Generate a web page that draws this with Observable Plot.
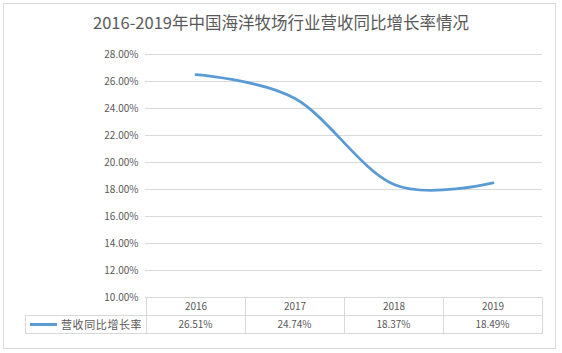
<!DOCTYPE html>
<html>
<head>
<meta charset="utf-8">
<script src="https://cdn.jsdelivr.net/npm/d3@7"></script>
<script src="https://cdn.jsdelivr.net/npm/@observablehq/plot@0.6"></script>
<style>
  html, body { margin: 0; padding: 0; background: #fff; }
  #wrap { position: relative; width: 562px; height: 353px; font-family: "Noto Sans CJK SC", "Noto Sans", sans-serif; color: #595959; overflow: hidden; }
  #frame { position: absolute; left: 3px; top: 3px; width: 551px; height: 344px; border: 1px solid #d9d9d9; box-sizing: content-box; }
  #title { position: relative; height: 40px; line-height: 40px; padding-top: 2px; box-sizing: border-box; text-align: center; font-size: 16.5px; }
  .hl, .vl { position: absolute; background: #d9d9d9; }
  .cellText { position: absolute; font-size: 10px; text-align: center; line-height: 18px; }
</style>
</head>
<body>
<div id="wrap">
  <div id="frame"></div>
  <div id="title"></div>
  <div id="chart"></div>
</div>
<script>
const title = "2016-2019年中国海洋牧场行业营收同比增长率情况";
const seriesName = "营收同比增长率";
const years = ["2016", "2017", "2018", "2019"];
const values = [26.51, 24.74, 18.37, 18.49];
const yTicks = [10, 12, 14, 16, 18, 20, 22, 24, 26, 28];
const lineColor = "#5B9BD5";

document.getElementById("title").textContent = title;

const data = years.map((year, i) => ({year, value: values[i]}));

const plot = Plot.plot({
  width: 562,
  height: 313,
  marginTop: 14,
  marginBottom: 56,
  marginLeft: 145,
  marginRight: 20,
  style: {fontSize: "10px", fontFamily: "'Noto Sans CJK SC', 'Noto Sans', sans-serif", color: "#595959", background: "transparent", overflow: "visible"},
  x: {type: "band", domain: years, padding: 0, tickSize: 0, tickPadding: 5, label: null},
  y: {domain: [10, 28], ticks: 9, tickFormat: d => d.toFixed(2) + "%", tickSize: 0, tickPadding: 7, label: null},
  marks: [
    Plot.ruleY(yTicks, {stroke: "#d9d9d9", strokeWidth: 1}),
    Plot.line(data, {x: "year", y: "value", stroke: lineColor, strokeWidth: 2.75, curve: "cardinal", strokeLinecap: "round"})
  ]
});
const chart = document.getElementById("chart");
chart.appendChild(plot);

// Data table below the plot, aligned with the x band scale
const xs = plot.scale("x");
const ys = plot.scale("y");
const top0 = 40; // svg offset
const yBase = top0 + ys.apply(10);
const rowH = 18;
const leftX = 25;
const bw = xs.bandwidth;
const x0 = xs.apply(years[0]);
const xEnd = xs.apply(years[years.length - 1]) + bw;
const wrap = document.getElementById("wrap");
function add(cls, style, text) {
  const d = document.createElement("div");
  d.className = cls;
  Object.assign(d.style, style);
  if (text != null) d.textContent = text;
  wrap.appendChild(d);
  return d;
}
// horizontal lines
add("hl", {left: leftX + "px", top: (yBase + rowH) + "px", width: (xEnd - leftX + 1) + "px", height: "1px"});
add("hl", {left: leftX + "px", top: (yBase + 2 * rowH) + "px", width: (xEnd - leftX + 1) + "px", height: "1px"});
// vertical lines
add("vl", {left: leftX + "px", top: (yBase + rowH) + "px", width: "1px", height: (rowH + 1) + "px"});
years.forEach(y => {
  add("vl", {left: xs.apply(y) + "px", top: yBase + "px", width: "1px", height: (2 * rowH + 1) + "px"});
});
add("vl", {left: xEnd + "px", top: yBase + "px", width: "1px", height: (2 * rowH + 1) + "px"});
// values row
years.forEach((y, i) => {
  add("cellText", {left: xs.apply(y) + "px", top: (yBase + rowH) + "px", width: bw + "px", height: rowH + "px"}, values[i].toFixed(2) + "%");
});
// legend cell
add("hl", {left: (leftX + 5) + "px", top: (yBase + rowH + 8) + "px", width: "27px", height: "3px", background: lineColor});
add("cellText", {left: (leftX + 36) + "px", top: (yBase + rowH) + "px", width: "84px", height: rowH + "px", fontSize: "11px", textAlign: "left", letterSpacing: "0.6px"}, seriesName);
</script>
</body>
</html>
